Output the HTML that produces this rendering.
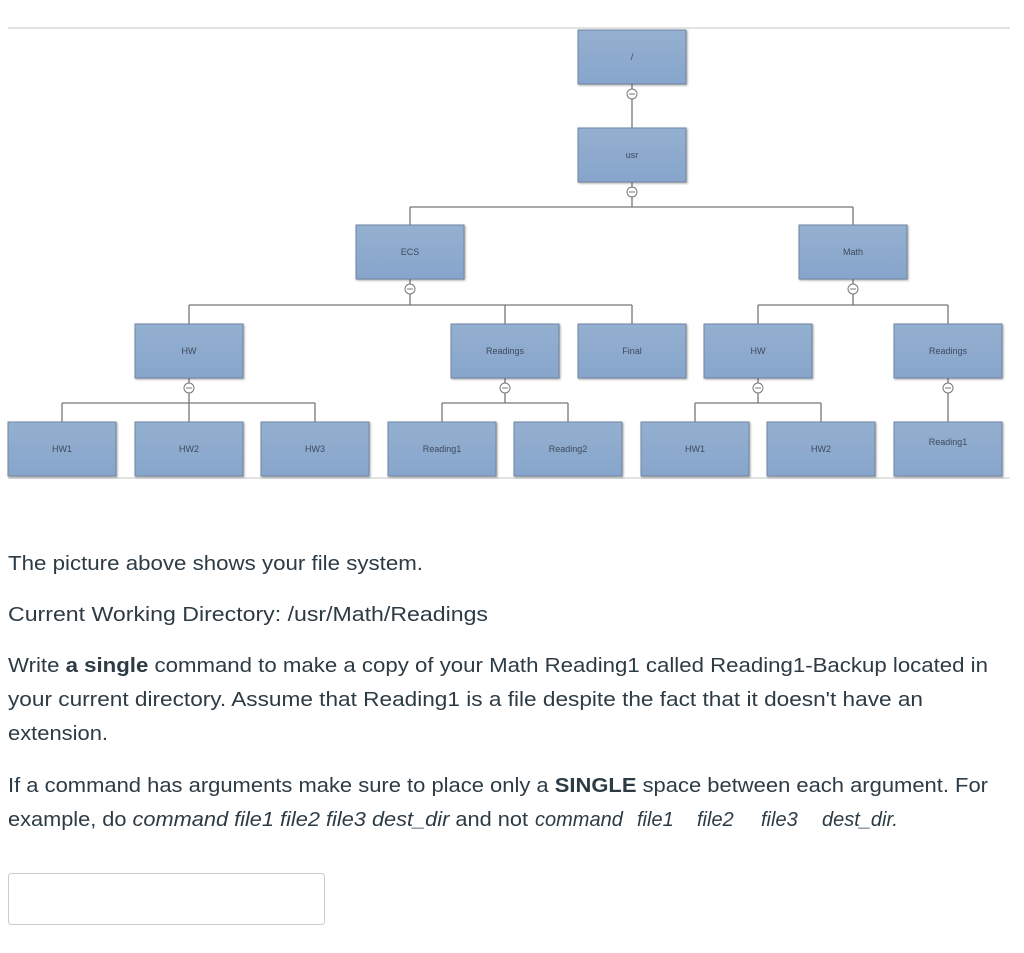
<!DOCTYPE html>
<html><head><meta charset="utf-8"><style>
html,body{margin:0;padding:0;background:#fff;width:1024px;height:953px;overflow:hidden}
</style></head><body>
<svg width="1024" height="953" viewBox="0 0 1024 953" xmlns="http://www.w3.org/2000/svg" font-family="Liberation Sans, sans-serif">
<defs>
<linearGradient id="g" x1="0" y1="0" x2="0" y2="1"><stop offset="0" stop-color="#94b0d0"/><stop offset="1" stop-color="#87a5cc"/></linearGradient>
<filter id="s" x="-10%" y="-10%" width="130%" height="130%"><feDropShadow dx="1" dy="1" stdDeviation="1" flood-color="#000" flood-opacity="0.35"/></filter>
</defs>
<line x1="8" y1="28" x2="1010" y2="28" stroke="#e2e2e2" stroke-width="2"/>
<line x1="8" y1="478" x2="1010" y2="478" stroke="#d8d8d8" stroke-width="1.5"/>
<g stroke="#777" stroke-width="1.3" fill="none">
<path d="M632 84V128"/>
<path d="M632 182V207M410 207H853M410 207V225M853 207V225"/>
<path d="M410 279V305M189 305H632M189 305V324M505 305V324M632 305V324"/>
<path d="M853 279V305M758 305H948M758 305V324M948 305V324"/>
<path d="M189 378V403M62 403H315M62 403V422M189 403V422M315 403V422"/>
<path d="M505 378V403M442 403H568M442 403V422M568 403V422"/>
<path d="M758 378V403M695 403H821M695 403V422M821 403V422"/>
<path d="M948 378V422"/>
</g>
<g fill="url(#g)" stroke="#6f86a3" stroke-width="1" filter="url(#s)">
<rect x="578" y="30" width="108" height="54"/>
<rect x="578" y="128" width="108" height="54"/>
<rect x="356" y="225" width="108" height="54"/>
<rect x="799" y="225" width="108" height="54"/>
<rect x="135" y="324" width="108" height="54"/>
<rect x="451" y="324" width="108" height="54"/>
<rect x="578" y="324" width="108" height="54"/>
<rect x="704" y="324" width="108" height="54"/>
<rect x="894" y="324" width="108" height="54"/>
<rect x="8" y="422" width="108" height="54"/>
<rect x="135" y="422" width="108" height="54"/>
<rect x="261" y="422" width="108" height="54"/>
<rect x="388" y="422" width="108" height="54"/>
<rect x="514" y="422" width="108" height="54"/>
<rect x="641" y="422" width="108" height="54"/>
<rect x="767" y="422" width="108" height="54"/>
<rect x="894" y="422" width="108" height="54"/>
</g>
<g fill="#fff" stroke="#777" stroke-width="1">
<circle cx="632" cy="94" r="5"/><circle cx="632" cy="192" r="5"/><circle cx="410" cy="289" r="5"/>
<circle cx="853" cy="289" r="5"/><circle cx="189" cy="388" r="5"/><circle cx="505" cy="388" r="5"/>
<circle cx="758" cy="388" r="5"/><circle cx="948" cy="388" r="5"/>
</g>
<g stroke="#777" stroke-width="1">
<path d="M629 94h6M629 192h6M407 289h6M850 289h6M186 388h6M502 388h6M755 388h6M945 388h6"/>
</g>
<g font-size="9" fill="#3e4a5c" text-anchor="middle">
<text x="632" y="60">/</text><text x="632" y="158">usr</text>
<text x="410" y="255">ECS</text><text x="853" y="255">Math</text>
<text x="189" y="354">HW</text><text x="505" y="354">Readings</text><text x="632" y="354">Final</text>
<text x="758" y="354">HW</text><text x="948" y="354">Readings</text>
<text x="62" y="452">HW1</text><text x="189" y="452">HW2</text><text x="315" y="452">HW3</text>
<text x="442" y="452">Reading1</text><text x="568" y="452">Reading2</text><text x="695" y="452">HW1</text>
<text x="821" y="452">HW2</text><text x="948" y="445">Reading1</text>
</g>
<g font-size="20" fill="#2d3b45">
<text x="8" y="570" textLength="415" lengthAdjust="spacingAndGlyphs">The picture above shows your file system.</text>
<text x="8" y="621" textLength="480" lengthAdjust="spacingAndGlyphs">Current Working Directory: /usr/Math/Readings</text>
<text x="8" y="672" textLength="980" lengthAdjust="spacingAndGlyphs">Write <tspan font-weight="bold">a single</tspan> command to make a copy of your Math Reading1 called Reading1-Backup located in</text>
<text x="8" y="706" textLength="915" lengthAdjust="spacingAndGlyphs">your current directory. Assume that Reading1 is a file despite the fact that it doesn't have an</text>
<text x="8" y="740" textLength="100" lengthAdjust="spacingAndGlyphs">extension.</text>
<text x="8" y="792" textLength="980" lengthAdjust="spacingAndGlyphs">If a command has arguments make sure to place only a <tspan font-weight="bold">SINGLE</tspan> space between each argument. For</text>
<text x="8" y="826" textLength="520" lengthAdjust="spacingAndGlyphs">example, do <tspan font-style="italic">command file1 file2 file3 dest_dir</tspan> and not</text>
<g font-style="italic">
<text x="535" y="826">command</text>
<text x="637" y="826">file1</text>
<text x="697" y="826">file2</text>
<text x="761" y="826">file3</text>
<text x="822" y="826">dest_dir.</text>
</g>
</g>
<rect x="8.5" y="873.5" width="316" height="51" rx="3" fill="#fff" stroke="#c7cdd1"/>
</svg>
</body></html>
